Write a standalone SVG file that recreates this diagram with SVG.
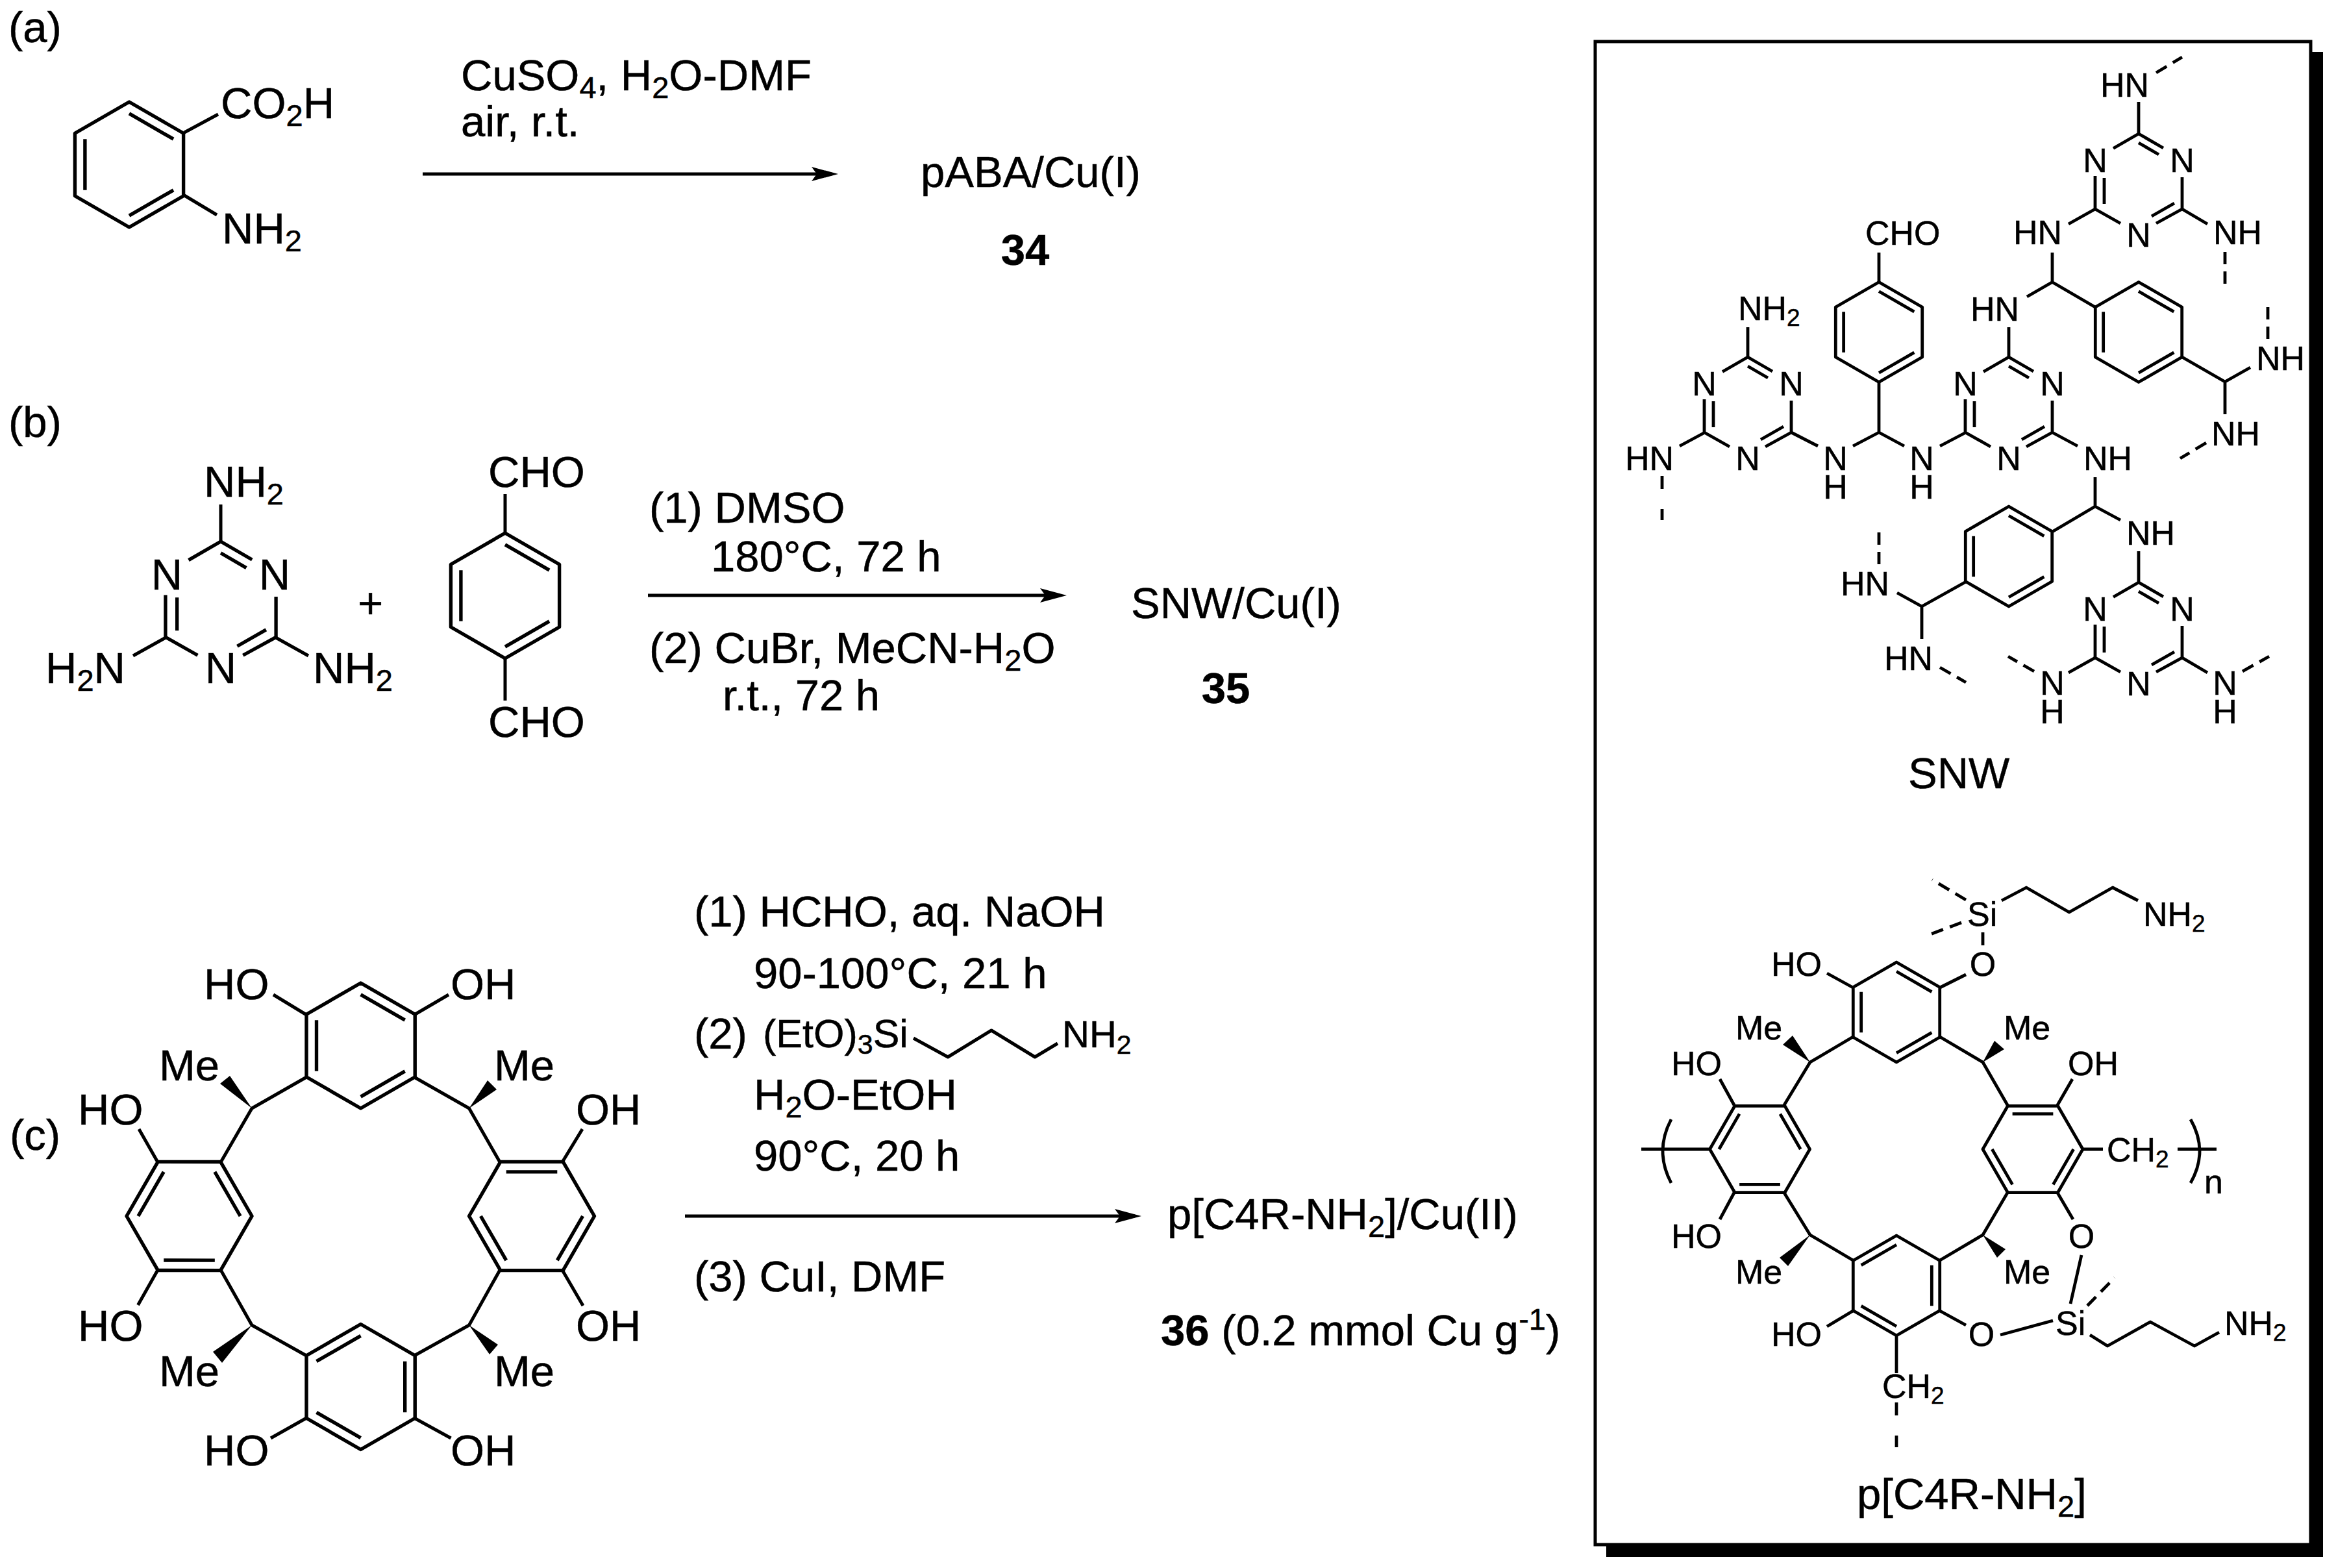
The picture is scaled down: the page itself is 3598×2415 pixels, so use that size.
<svg xmlns="http://www.w3.org/2000/svg" width="3598" height="2415" viewBox="0 0 3598 2415">
<style>
text{font-family:"Liberation Sans",Arial,sans-serif;fill:#000;stroke:#000;stroke-width:.5}
.l{font-size:67px}
.s{font-size:52px}
.r{font-size:58px}
.e{font-size:61px}
.m{text-anchor:middle}
.bd{font-weight:bold}
.bond{fill:none;stroke:#000;stroke-width:5;stroke-linejoin:round;stroke-linecap:butt}
.bb{fill:none;stroke:#000;stroke-width:4.8;stroke-linejoin:round}
.dash{fill:none;stroke:#000;stroke-width:4.8;stroke-dasharray:19 11}
.dashw{fill:none;stroke:#000;stroke-width:4.8;stroke-dasharray:20 31}
.arrow{fill:none;stroke:#000;stroke-width:5;marker-end:url(#head)}
.big{stroke-width:5.4}
.small{stroke-width:6}
.tmain{stroke-width:4.2}
.tbox{stroke-width:4.8}
</style>
<defs>
<marker id="head" markerUnits="userSpaceOnUse" markerWidth="44" markerHeight="28" refX="31" refY="14" orient="auto" viewBox="0 0 44 28"><path d="M0,3 L41,14 L0,25 L8,14 Z" fill="#000"/></marker>
<g id="benz" fill="none" stroke="#000" stroke-linejoin="round">
<path d="M0,-96.5 L83.6,-48.25 L83.6,48.25 L0,96.5 L-83.6,48.25 L-83.6,-48.25 Z"/>
<path d="M0,-78.6 L68.1,-39.3 M68.1,39.3 L0,78.6 M-68.1,39.3 L-68.1,-39.3"/>
</g>
<path id="triaz" fill="none" stroke="#000" d="M0,0 L-39,22.5 M0,0 L38,22 M0,14 L31,32 M-67,65 L-67,116 M-53,68 L-53,108 M67,67 L67,116 M-67,116 L-28,138 M67,116 L27,138 M55,107 L20,127"/>
</defs>

<g id="panel-labels">
<text class="l" x="13" y="65">(a)</text>
<text class="l" x="13" y="673">(b)</text>
<text class="l" x="15" y="1771">(c)</text>
</g>

<g id="anthranilic-acid">
<use href="#benz" class="big" transform="translate(199,253.5)"/>
<path class="bond" d="M284,204 L336,176 M284,301 L334,331"/>
<text class="l" x="340" y="182">CO<tspan dy="12" font-size="47">2</tspan><tspan dy="-12">H</tspan></text>
<text class="l" x="342" y="375">NH<tspan dy="12" font-size="47">2</tspan></text>
</g>

<g id="conditions-a">
<text class="l" x="710" y="139">CuSO<tspan dy="12" font-size="47">4</tspan><tspan dy="-12">, H</tspan><tspan dy="12" font-size="47">2</tspan><tspan dy="-12">O-DMF</tspan></text>
<text class="l" x="710" y="210">air, r.t.</text>
</g>

<g id="product-34">
<text class="l" x="1418" y="288">pABA/Cu(I)</text>
<text class="l bd m" x="1579" y="408">34</text>
</g>

<g id="melamine">
<use href="#triaz" class="tmain" transform="translate(340,834) scale(1.27)"/>
<path class="bond" d="M340,834 L340,777 M423,981 L475,1010 M257,981 L205,1010"/>
<text class="l" x="314" y="765">NH<tspan dy="12" font-size="47">2</tspan></text>
<text class="l" x="482" y="1052">NH<tspan dy="12" font-size="47">2</tspan></text>
<text class="l" x="70" y="1052">H<tspan dy="12" font-size="47">2</tspan><tspan dy="-12">N</tspan></text>
<text class="l m" x="257" y="908">N</text>
<text class="l m" x="423" y="908">N</text>
<text class="l m" x="340" y="1052">N</text>
</g>

<g id="plus"><text class="l" x="551" y="952">+</text></g>

<g id="terephthalaldehyde">
<use href="#benz" class="big" transform="translate(778,917.5)"/>
<path class="bond" d="M778,821 L778,761 M778,1014 L778,1079"/>
<text class="l" x="752" y="750">CHO</text>
<text class="l" x="752" y="1135">CHO</text>
</g>

<g id="conditions-b">
<text class="l" x="1000" y="805">(1) DMSO</text>
<text class="l" x="1095" y="880">180°C, 72 h</text>
<text class="l" x="1000" y="1021">(2) CuBr, MeCN-H<tspan dy="12" font-size="47">2</tspan><tspan dy="-12">O</tspan></text>
<text class="l" x="1113" y="1094">r.t., 72 h</text>
</g>

<g id="product-35">
<text class="l" x="1742" y="952">SNW/Cu(I)</text>
<text class="l bd m" x="1888" y="1083">35</text>
</g>

<g id="resorcinarene">
<use href="#benz" class="big" transform="translate(555.6,1610.5)"/>
<use href="#benz" class="big" transform="translate(555.6,2136) rotate(180)"/>
<use href="#benz" class="big" transform="translate(291.5,1873) rotate(30)"/>
<use href="#benz" class="big" transform="translate(819,1873) rotate(90)"/>
<path class="bond" d="M472,1563 L421,1532 M638,1563 L691,1532 M472,1659 L388,1707 L340,1790 M638,1659 L722.5,1707 L770,1790 M243,1790 L214,1739 M243,1956 L212.5,2010 M866,1790 L897,1739 M866,1956 L898,2011 M340,1956 L388,2041 L472,2088 M770,1956 L722.5,2041 L638,2088 M472,2184 L417,2215 M638,2184 L694.5,2215"/>
<polygon points="388,1707 339,1669 354,1657"/>
<polygon points="722.5,1707 751,1664 765,1678"/>
<polygon points="388,2041 328,2082 342,2099"/>
<polygon points="722.5,2041 767,2071 754,2086"/>
<text class="l" x="314" y="1539">HO</text>
<text class="l" x="694" y="1539">OH</text>
<text class="l" x="245" y="1664">Me</text>
<text class="l" x="761" y="1664">Me</text>
<text class="l" x="120" y="1732">HO</text>
<text class="l" x="887" y="1732">OH</text>
<text class="l" x="120" y="2065">HO</text>
<text class="l" x="887" y="2065">OH</text>
<text class="l" x="245" y="2135">Me</text>
<text class="l" x="761" y="2135">Me</text>
<text class="l" x="314" y="2257">HO</text>
<text class="l" x="694" y="2257">OH</text>
</g>

<g id="conditions-c">
<text class="l" x="1069" y="1427">(1) HCHO, aq. NaOH</text>
<text class="l" x="1161" y="1522">90-100°C, 21 h</text>
<text class="l" x="1069" y="1615">(2)</text>
<text class="e" x="1175" y="1613">(EtO)<tspan dy="10" font-size="43">3</tspan><tspan dy="-10">Si</tspan></text>
<path class="bond" d="M1407,1599 L1460,1628 L1527,1587 L1594,1628 L1629,1607"/>
<text class="r" x="1636" y="1613">NH<tspan dy="10" font-size="41">2</tspan></text>
<text class="l" x="1161" y="1709">H<tspan dy="12" font-size="47">2</tspan><tspan dy="-12">O-EtOH</tspan></text>
<text class="l" x="1161" y="1803">90°C, 20 h</text>
<text class="l" x="1069" y="1989">(3) CuI, DMF</text>
</g>

<g id="product-36">
<text class="l" x="1798" y="1893">p[C4R-NH<tspan dy="12" font-size="47">2</tspan><tspan dy="-12">]/Cu(II)</tspan></text>
<text class="l" x="1788" y="2072"><tspan class="bd">36</tspan> (0.2 mmol Cu g<tspan dy="-24" font-size="47">-1</tspan><tspan dy="24">)</tspan></text>
</g>

<g id="connectors">
<path class="arrow" d="M651,268 L1281,268"/>
<path class="arrow" d="M998,917 L1633,917"/>
<path class="arrow" d="M1055,1873 L1748,1873"/>
</g>

<g id="structure-box">
<rect x="2474" y="80" width="1104" height="2318" fill="#000"/>
<rect x="2457" y="64" width="1102" height="2315" fill="#fff" stroke="#000" stroke-width="5"/>
</g>

<g id="snw">
<use href="#triaz" class="tbox" transform="translate(3294,206)"/>
<use href="#triaz" class="tbox" transform="translate(3094,550)"/>
<use href="#triaz" class="tbox" transform="translate(2692,550)"/>
<use href="#triaz" class="tbox" transform="translate(3294,897)"/>
<use href="#benz" class="small" transform="translate(2894,511.5) scale(.798)"/>
<use href="#benz" class="small" transform="translate(3294,511.5) scale(.798)"/>
<use href="#benz" class="small" transform="translate(3094,857) scale(.798)"/>
<path class="bb" d="M3294,206 L3294,157 M3227,322 L3186,345 M3361,322 L3400,345 M3161,389 L3161,434.5 L3122,457 M3161,434.5 L3227,473 M3361,550 L3427,588 L3466,566 M3427,588 L3427,638 M3094,550 L3094,504 M2692,550 L2692,504 M2626,666 L2587,687 M2759,666 L2800,687 M2854,687 L2894,666 L2933,687 M2894,666 L2894,588 M2894,434.5 L2894,389 M2988,687 L3028,666 M3161,666 L3200,687 M3227,735 L3227,780 L3161,819 M3227,780 L3266,801 M3294,849 L3294,897 M3028,896 L2960,934 L2922,913 M2960,934 L2960,984 M3227,1013 L3186,1036 M3361,1013 L3400,1036"/>
<path class="dash" d="M3321,112 L3361,88 M3427,388 L3427,437 M3398,682 L3358,706 M2988,1028 L3028,1051 M3133,1034 L3093,1011 M3454,1034 L3495,1011 M3493,522 L3493,472 M2894,869 L2894,817"/>
<path class="dashw" d="M2560,733 L2560,801"/>
<text class="s" x="3235" y="149">HN</text>
<text class="s m" x="3227" y="265">N</text><text class="s m" x="3361" y="265">N</text><text class="s m" x="3294" y="380">N</text>
<text class="s" x="3101" y="376">HN</text>
<text class="s" x="3409" y="376">NH</text>
<text class="s" x="2873" y="377">CHO</text>
<text class="s" x="3035" y="494">HN</text>
<text class="s" x="2677" y="493">NH<tspan dy="9" font-size="37">2</tspan></text>
<text class="s" x="3475" y="570">NH</text>
<text class="s m" x="2625" y="609">N</text><text class="s m" x="2759" y="609">N</text><text class="s m" x="2692" y="724">N</text>
<text class="s m" x="3027" y="609">N</text><text class="s m" x="3161" y="609">N</text><text class="s m" x="3094" y="724">N</text>
<text class="s" x="3406" y="686">NH</text>
<text class="s" x="2503" y="724">HN</text>
<text class="s m" x="2827" y="724">N</text><text class="s m" x="2827" y="768">H</text>
<text class="s m" x="2960" y="724">N</text><text class="s m" x="2960" y="768">H</text>
<text class="s" x="3209" y="724">NH</text>
<text class="s" x="3275" y="839">NH</text>
<text class="s" x="2835" y="917">HN</text>
<text class="s m" x="3227" y="956">N</text><text class="s m" x="3361" y="956">N</text><text class="s m" x="3294" y="1071">N</text>
<text class="s" x="2902" y="1032">HN</text>
<text class="s m" x="3161" y="1070">N</text><text class="s m" x="3161" y="1114">H</text>
<text class="s m" x="3427" y="1070">N</text><text class="s m" x="3427" y="1114">H</text>
<text class="l" x="2939" y="1214">SNW</text>
</g>

<g id="p-c4r-nh2">
<use href="#benz" class="small" transform="translate(2921,1559) scale(.798)"/>
<use href="#benz" class="small" transform="translate(2921,1980) rotate(180) scale(.798)"/>
<use href="#benz" class="small" transform="translate(2710.5,1770) rotate(30) scale(.798)"/>
<use href="#benz" class="small" transform="translate(3131,1770) rotate(90) scale(.798)"/>
<path class="bb" d="M3083,1387 L3121,1367 L3187,1405 L3254,1367 L3293,1387 M3054,1436 L3054,1456 M3028,1501 L2988,1521 M2854,1521 L2814,1499 M2854,1597 L2788,1636 L2748,1702 M2988,1597 L3054,1636 L3092,1702 M2671,1702 L2649,1662 M2671,1837 L2649,1878 M2633,1770 L2528,1770 M2574,1724 Q2548,1773 2574,1822 M3169,1702 L3192,1662 M3208,1770 L3239,1770 M3354,1770 L3414,1770 M3374,1724 Q3402,1773 3374,1822 M3169,1837 L3193,1878 M3206,1933 L3189,2008 M3219,2056 L3246,2073 L3312,2036 L3380,2073 L3418,2052 M3081,2056 L3162,2034 M3028,2041 L2988,2019 M2748,1837 L2788,1902 L2854,1941 M3092,1837 L3054,1902 L2988,1941 M2854,2019 L2814,2043 M2921,2058 L2921,2115"/>
<path class="dash" d="M3028,1386 L2976,1355 M3021,1421 L2965,1442 M3215,2011 L3257,1968"/>
<path class="dashw" d="M2921,2160 L2921,2229"/>
<polygon points="2788,1636 2746,1609 2761,1595"/>
<polygon points="3054,1636 3072,1603 3087,1616"/>
<polygon points="2788,1902 2741,1937 2754,1950"/>
<polygon points="3054,1902 3089,1924 3076,1937"/>
<text class="s" x="3030" y="1426">Si</text>
<text class="s" x="3301" y="1426">NH<tspan dy="9" font-size="37">2</tspan></text>
<text class="s m" x="3054" y="1503">O</text>
<text class="s" x="2728" y="1503">HO</text>
<text class="s" x="2673" y="1601">Me</text>
<text class="s" x="3086" y="1601">Me</text>
<text class="s" x="2574" y="1656">HO</text>
<text class="s" x="3185" y="1656">OH</text>
<text class="s" x="3245" y="1789">CH<tspan dy="9" font-size="37">2</tspan></text>
<text class="s" x="3395" y="1838">n</text>
<text class="s" x="2574" y="1922">HO</text>
<text class="s m" x="3206" y="1922">O</text>
<text class="s" x="2673" y="1977">Me</text>
<text class="s" x="3086" y="1977">Me</text>
<text class="s" x="3166" y="2056">Si</text>
<text class="s" x="3426" y="2056">NH<tspan dy="9" font-size="37">2</tspan></text>
<text class="s m" x="3052" y="2073">O</text>
<text class="s" x="2728" y="2073">HO</text>
<text class="s" x="2899" y="2153">CH<tspan dy="9" font-size="37">2</tspan></text>
<text class="l" x="2860" y="2324">p[C4R-NH<tspan dy="12" font-size="47">2</tspan><tspan dy="-12">]</tspan></text>
</g>
</svg>
